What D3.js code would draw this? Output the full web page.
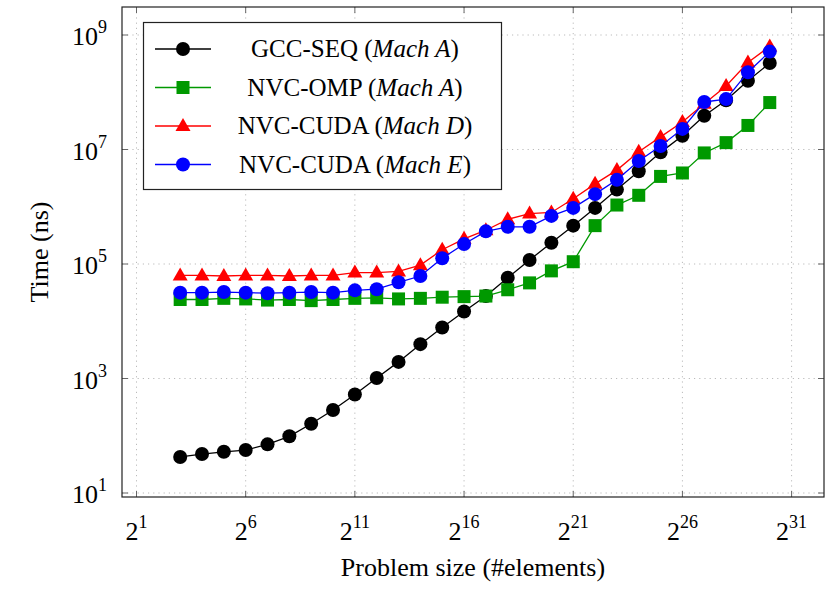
<!DOCTYPE html>
<meta charset="utf-8">
<script src="https://d3js.org/d3.v7.min.js"></script>
<style>body{margin:0;background:#fff}</style>
<div id="chart"></div>
<script>
// exponents of problem size (2^n)
var sizes = d3.range(3, 31);
// log10 of time (ns)
var gccSeq  = [1.63,1.68,1.72,1.75,1.85,1.99,2.21,2.45,2.72,3.01,3.29,3.60,3.89,4.17,4.44,4.76,5.07,5.37,5.67,5.98,6.30,6.62,6.95,7.24,7.59,7.86,8.20,8.51];
var nvcOmp  = [4.38,4.38,4.40,4.39,4.37,4.38,4.36,4.38,4.40,4.41,4.39,4.40,4.42,4.43,4.44,4.55,4.67,4.88,5.04,5.67,6.03,6.20,6.53,6.59,6.94,7.12,7.42,7.82];
var cudaD   = [4.80,4.80,4.79,4.80,4.80,4.79,4.80,4.80,4.85,4.85,4.87,4.98,5.25,5.44,5.59,5.78,5.88,5.90,6.14,6.40,6.64,6.96,7.22,7.48,7.80,8.11,8.52,8.80];
var cudaE   = [4.50,4.50,4.51,4.50,4.49,4.50,4.51,4.50,4.54,4.56,4.68,4.79,5.10,5.35,5.57,5.65,5.65,5.84,5.98,6.22,6.47,6.80,7.06,7.36,7.83,7.88,8.35,8.71];
var xTicks = [1,6,11,16,21,26,31];
var yTicks = [1,3,5,7,9];

var series = [
  {name:"GCC-SEQ", mach:"Mach A", vals:gccSeq, color:"#000", shape:"circle"},
  {name:"NVC-OMP", mach:"Mach A", vals:nvcOmp, color:"#009900", shape:"square"},
  {name:"NVC-CUDA", mach:"Mach D", vals:cudaD, color:"#ff0000", shape:"triangle"},
  {name:"NVC-CUDA", mach:"Mach E", vals:cudaE, color:"#0000ff", shape:"circle"}
];

var W = 832, H = 597;
var svg = d3.select("#chart").append("svg").attr("width", W).attr("height", H)
  .attr("font-family", "'Liberation Serif', 'DejaVu Serif', serif");

var L = 122, R = 824, T = 7, B = 497;
var x = d3.scaleLinear().domain([1, 31]).range([136.5, 791.6]);
var y = d3.scaleLinear().domain([1, 9]).range([493, 35]);

// grid
var g = svg.append("g");
g.selectAll(".gx").data(xTicks).enter().append("line")
  .attr("x1", d => x(d)).attr("x2", d => x(d)).attr("y1", T).attr("y2", B)
  .attr("stroke", "#bbb").attr("stroke-dasharray", "1.2,4");
g.selectAll(".gy").data(yTicks).enter().append("line")
  .attr("y1", d => y(d)).attr("y2", d => y(d)).attr("x1", L).attr("x2", R)
  .attr("stroke", "#bbb").attr("stroke-dasharray", "1.2,4");

// ticks inside, all four sides
xTicks.forEach(function(t) {
  g.append("line").attr("x1", x(t)).attr("x2", x(t)).attr("y1", B).attr("y2", B - 6).attr("stroke", "#666");
  g.append("line").attr("x1", x(t)).attr("x2", x(t)).attr("y1", T).attr("y2", T + 6).attr("stroke", "#666");
  var tx = svg.append("text").attr("x", x(t)).attr("y", 540).attr("text-anchor", "middle").attr("font-size", 26);
  tx.append("tspan").text("2");
  tx.append("tspan").attr("dy", -12).attr("font-size", 18).text(t);
});
yTicks.forEach(function(t) {
  g.append("line").attr("x1", L).attr("x2", L + 6).attr("y1", y(t)).attr("y2", y(t)).attr("stroke", "#666");
  g.append("line").attr("x1", R).attr("x2", R - 6).attr("y1", y(t)).attr("y2", y(t)).attr("stroke", "#666");
  var ty = svg.append("text").attr("x", 72).attr("y", y(t) + 10).attr("font-size", 26);
  ty.append("tspan").text("10");
  ty.append("tspan").attr("dy", -12).attr("font-size", 18).text(t);
});

svg.append("rect").attr("x", L).attr("y", T).attr("width", R - L).attr("height", B - T)
  .attr("fill", "none").attr("stroke", "#222").attr("stroke-width", 1.2);

function marker(sel, s, cx, cy) {
  if (s.shape === "circle") sel.append("circle").attr("cx", cx).attr("cy", cy).attr("r", 7).attr("fill", s.color);
  else if (s.shape === "square") sel.append("rect").attr("x", cx - 6.5).attr("y", cy - 6.5).attr("width", 13).attr("height", 13).attr("fill", s.color);
  else sel.append("path").attr("d", "M" + cx + "," + (cy - 8) + "L" + (cx + 7.5) + "," + (cy + 5) + "L" + (cx - 7.5) + "," + (cy + 5) + "Z").attr("fill", s.color);
}

var line = d3.line().x(d => x(d[0])).y(d => y(d[1]));
series.forEach(function(s) {
  var pts = sizes.map((n, i) => [n, s.vals[i]]);
  var sg = svg.append("g");
  sg.append("path").attr("d", line(pts)).attr("fill", "none").attr("stroke", s.color).attr("stroke-width", 1.3);
  pts.forEach(p => marker(sg, s, x(p[0]), y(p[1])));
});

// legend
var lg = svg.append("g");
lg.append("rect").attr("x", 143.5).attr("y", 22.5).attr("width", 358).attr("height", 167)
  .attr("fill", "#fff").attr("stroke", "#222").attr("stroke-width", 1.2);
series.forEach(function(s, i) {
  var cy = 49 + i * 38.5;
  lg.append("line").attr("x1", 155).attr("x2", 211).attr("y1", cy).attr("y2", cy).attr("stroke", s.color).attr("stroke-width", 1.3);
  marker(lg, s, 183, cy);
  var t = lg.append("text").attr("x", 355).attr("y", cy + 8).attr("text-anchor", "middle").attr("font-size", 25);
  t.append("tspan").text(s.name + " (");
  t.append("tspan").attr("font-style", "italic").text(s.mach);
  t.append("tspan").text(")");
});

svg.append("text").attr("x", 473).attr("y", 576).attr("text-anchor", "middle").attr("font-size", 26)
  .text("Problem size (#elements)");
svg.append("text").attr("transform", "translate(48,252) rotate(-90)").attr("text-anchor", "middle").attr("font-size", 26)
  .text("Time (ns)");
</script>
